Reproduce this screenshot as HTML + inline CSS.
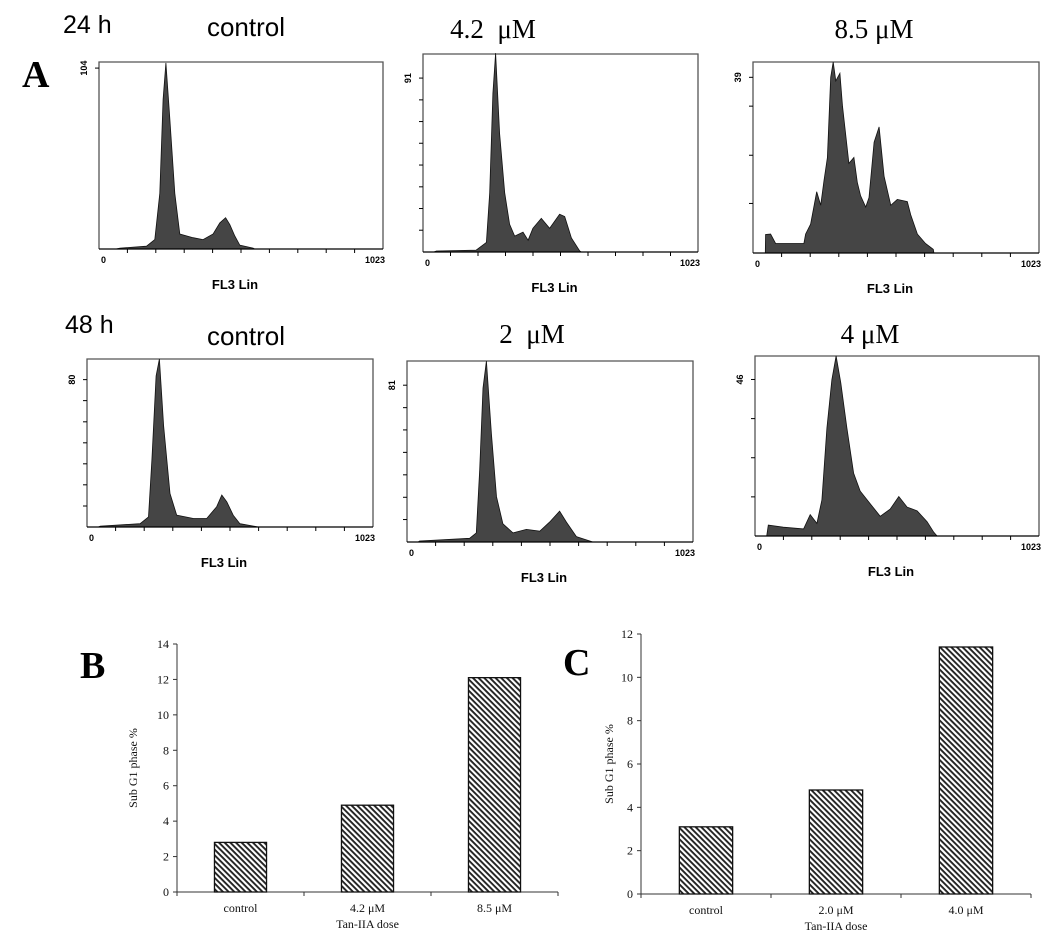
<!DOCTYPE html>
<html><head><meta charset="utf-8">
<style>
html,body{margin:0;padding:0;background:#fff;}
svg{display:block;}
.ar{font-family:"Liberation Sans",Arial,sans-serif;}
.tm{font-family:"Liberation Serif","Times New Roman",serif;}
</style></head>
<body>
<svg id="fig" width="1047" height="938" viewBox="0 0 1047 938" xmlns="http://www.w3.org/2000/svg">
<defs>
<pattern id="hatch" width="4" height="4" patternUnits="userSpaceOnUse" patternTransform="rotate(45)">
<rect width="4" height="4" fill="#fff"/>
<rect x="0" y="0" width="4" height="1.9" fill="#222"/>
</pattern>
</defs>
<g class="ar" fill="#000">
<text x="63" y="33" font-size="25">24 h</text>
<text x="246" y="36" font-size="26" text-anchor="middle">control</text>
<text x="65" y="333" font-size="25">48 h</text>
<text x="246" y="345" font-size="26" text-anchor="middle">control</text>
</g>
<g class="tm" fill="#000">
<text x="493" y="38" font-size="27" text-anchor="middle">4.2 &#160;μM</text>
<text x="874" y="38" font-size="27" text-anchor="middle">8.5 μM</text>
<text x="532" y="343" font-size="27" text-anchor="middle">2 &#160;μM</text>
<text x="870" y="343" font-size="27" text-anchor="middle">4 μM</text>
<text x="22" y="87" font-size="38" font-weight="bold">A</text>
<text x="80" y="678" font-size="38" font-weight="bold">B</text>
<text x="563" y="675" font-size="38" font-weight="bold">C</text>
</g>
<g id="hists"></g>
<g id="bars"></g>
</svg>
<script>
// ---- Histogram data (channel, count) ----
const h1Ch = [60,76,171,201,219,231,241,255,273,291,339,375,411,435,456,471,489,507,555,561];
const h1Ct = [0,0.5,1.6,5.4,32,86,107,75,32,8.6,6.5,5.4,8.6,15,18,14,7.5,2.2,0.5,0];
const h2Ch = [40,50,198,236,248,260,270,285,304,322,341,372,391,409,440,471,508,527,552,583,589];
const h2Ct = [0,0.5,1,5,31,83,104,62,31,14.5,8.3,10.4,6.2,12.4,17.6,12.4,19.7,18.6,7.3,0.5,0];
const h3Ch = [44,45,63,81,182,188,206,228,242,254,266,278,287,296,311,320,343,361,373,385,403,415,433,451,469,493,516,552,564,588,617,645,647];
const h3Ct = [0,4.1,4.2,2.1,2.1,4.2,6.4,13.6,10.6,16.1,21.2,39,42.4,38.2,39.9,32.6,19.9,21.2,15.7,12.7,10.2,12.3,24.6,28,17,10.6,11.9,11.4,8.5,4.2,2.1,0.8,0];
const h4Ch = [40,48,190,220,232,247,259,274,297,321,381,428,464,482,500,523,547,613];
const h4Ct = [0,0.5,1.8,5.5,36.5,82,91.2,55,18.2,6.4,4.6,4.6,11,17.3,13.7,6.4,1.8,0];
const h5Ch = [40,45,224,248,260,272,284,302,320,343,379,427,475,510,546,570,606,665];
const h5Ct = [0,0.5,1.9,4.7,37.4,79.5,93.5,56,23.4,9.4,4.7,6.5,5.6,10.3,15.9,10.3,2.8,0];
const h6Ch = [42,48,102,175,199,223,241,259,277,292,309,331,355,379,415,451,487,518,548,584,620,644,656];
const h6Ct = [0,3.2,2.6,2.1,6.3,3.7,10.6,31.7,46,52.9,45,31.7,18.5,13.2,9.5,5.8,7.9,11.6,8.5,7.4,4.2,1.1,0];
const hYTop = [107.5,103.6,42.4,91.2,93.5,52.9];
const hYLabel = [104,91,39,80,81,46];
const h2Ticks = [11.4,22.75,34.1,45.5,56.9,68.25,79.6,91];
const h3Ticks = [11,21.7,32.6,39];
const h4Ticks = [11.4,22.9,34.3,45.7,57.1,68.6,80];
const h5Ticks = [11.6,23.1,34.7,46.3,57.9,69.4,81];
const h6Ticks = [11.5,23,34.5,46];
// ---- Bar data ----
const bCats = ["control","4.2 μM","8.5 μM"];
const bVals = [2.8,4.9,12.1];
const bTicks = [0,2,4,6,8,10,12,14];
const cCats = ["control","2.0 μM","4.0 μM"];
const cVals = [3.1,4.8,11.4];
const cTicks = [0,2,4,6,8,10,12];

const NS="http://www.w3.org/2000/svg";
function mk(tag,attrs,parent){const e=document.createElementNS(NS,tag);for(const k in attrs)e.setAttribute(k,attrs[k]);parent.appendChild(e);return e;}

const panels=[
 {ch:h1Ch,ct:h1Ct,top:hYTop[0],lab:hYLabel[0],ticks:[hYLabel[0]],L:99,T:62,R:383,B:249,name:'hist-24h-control'},
 {ch:h2Ch,ct:h2Ct,top:hYTop[1],lab:hYLabel[1],ticks:h2Ticks,L:423,T:54,R:698,B:252,name:'hist-24h-4.2uM'},
 {ch:h3Ch,ct:h3Ct,top:hYTop[2],lab:hYLabel[2],ticks:h3Ticks,L:753,T:62,R:1039,B:253,name:'hist-24h-8.5uM'},
 {ch:h4Ch,ct:h4Ct,top:hYTop[3],lab:hYLabel[3],ticks:h4Ticks,L:87,T:359,R:373,B:527,name:'hist-48h-control'},
 {ch:h5Ch,ct:h5Ct,top:hYTop[4],lab:hYLabel[4],ticks:h5Ticks,L:407,T:361,R:693,B:542,name:'hist-48h-2uM'},
 {ch:h6Ch,ct:h6Ct,top:hYTop[5],lab:hYLabel[5],ticks:h6Ticks,L:755,T:356,R:1039,B:536,name:'hist-48h-4uM'}
];
const hg=document.getElementById('hists');
panels.forEach(p=>{
 const g=mk('g',{},hg);
 
 
 const x=c=>p.L+c/1023*(p.R-p.L);
 const y=v=>p.B-v/p.top*(p.B-p.T);
 const fr=mk('path',{d:`M${p.L},${p.B}V${p.T}H${p.R}V${p.B}`,fill:'none',stroke:'#555','stroke-width':1.3},g);
 
 
 let d=`M${x(p.ch[0])},${p.B}`;
 p.ch.forEach((c,i)=>{d+=`L${x(c).toFixed(1)},${y(p.ct[i]).toFixed(1)}`;});
 d+=`L${x(p.ch[p.ch.length-1])},${p.B}Z`;
 const ar=mk('path',{d:d,fill:'#454545',stroke:'#111','stroke-width':0.8},g);
 
 
 mk('line',{x1:p.L,y1:p.B,x2:p.R,y2:p.B,stroke:'#000','stroke-width':1.2},g);
 for(let k=1;k<10;k++){const tx=x(k*102.3);mk('line',{x1:tx,y1:p.B,x2:tx,y2:p.B+4,stroke:'#000','stroke-width':1},g);}
 p.ticks.forEach(t=>{mk('line',{x1:p.L-4,y1:y(t),x2:p.L,y2:y(t),stroke:'#000','stroke-width':1},g);});
 const t0=mk('text',{x:p.L+2,y:p.B+14,'font-size':9,'font-weight':'bold','class':'ar'},g);t0.textContent='0';
 
 
 const t1=mk('text',{x:p.R+2,y:p.B+14,'font-size':9,'font-weight':'bold','text-anchor':'end','class':'ar'},g);t1.textContent='1023';
 
 
 const yl=y(p.lab);
 const ty=mk('text',{x:0,y:0,'font-size':9,'font-weight':'bold','text-anchor':'middle','class':'ar',transform:`translate(${p.L-12},${yl}) rotate(-90)`},g);ty.textContent=p.lab;
 
 
 const ax=mk('text',{x:(p.L+p.R)/2-6,y:p.B+40,'font-size':13,'font-weight':'bold','text-anchor':'middle','class':'ar'},g);ax.textContent='FL3 Lin';
 
 
});

function barChart(cfg){
 const g=mk('g',{'class':'tm'},document.getElementById('bars'));
 
 
 const y=v=>cfg.B-v/cfg.max*(cfg.B-cfg.T);
 const cw=(cfg.R-cfg.L)/cfg.cats.length;
 mk('line',{x1:cfg.L,y1:cfg.T,x2:cfg.L,y2:cfg.B,stroke:'#333','stroke-width':1},g);
 mk('line',{x1:cfg.L,y1:cfg.B,x2:cfg.R,y2:cfg.B,stroke:'#333','stroke-width':1},g);
 cfg.ticks.forEach(t=>{
  mk('line',{x1:cfg.L-4,y1:y(t),x2:cfg.L,y2:y(t),stroke:'#333'},g);
  const tl=mk('text',{x:cfg.L-8,y:y(t)+4,'font-size':12,'text-anchor':'end',fill:'#111'},g);tl.textContent=t;
  
  
 });
 for(let i=0;i<=cfg.cats.length;i++){const tx=cfg.L+i*cw;mk('line',{x1:tx,y1:cfg.B,x2:tx,y2:cfg.B+4,stroke:'#333'},g);}
 cfg.cats.forEach((c,i)=>{
  const cx=cfg.L+(i+0.5)*cw, bw=cw*0.41;
  const r=mk('rect',{x:cx-bw/2,y:y(cfg.vals[i]),width:bw,height:cfg.B-y(cfg.vals[i]),fill:'url(#hatch)',stroke:'#111','stroke-width':1.3},g);
  
  
  const tl=mk('text',{x:cx,y:cfg.B+20,'font-size':12,'text-anchor':'middle',fill:'#111'},g);tl.textContent=c;
  
  
 });
 const xt=mk('text',{x:(cfg.L+cfg.R)/2,y:cfg.B+36,'font-size':12,'text-anchor':'middle',fill:'#111'},g);xt.textContent='Tan-IIA dose';
 
 
 const yt=mk('text',{x:0,y:0,'font-size':12,'text-anchor':'middle',fill:'#111',transform:`translate(${cfg.yl},${(cfg.T+cfg.B)/2}) rotate(-90)`},g);yt.textContent='Sub G1 phase %';
 
 
}
barChart({name:'bar-chart-b',cats:bCats,vals:bVals,ticks:bTicks,max:14,L:177,R:558,T:644,B:892,yl:137});
barChart({name:'bar-chart-c',cats:cCats,vals:cVals,ticks:cTicks,max:12,L:641,R:1031,T:634,B:894,yl:613});
</script>
</body></html>
